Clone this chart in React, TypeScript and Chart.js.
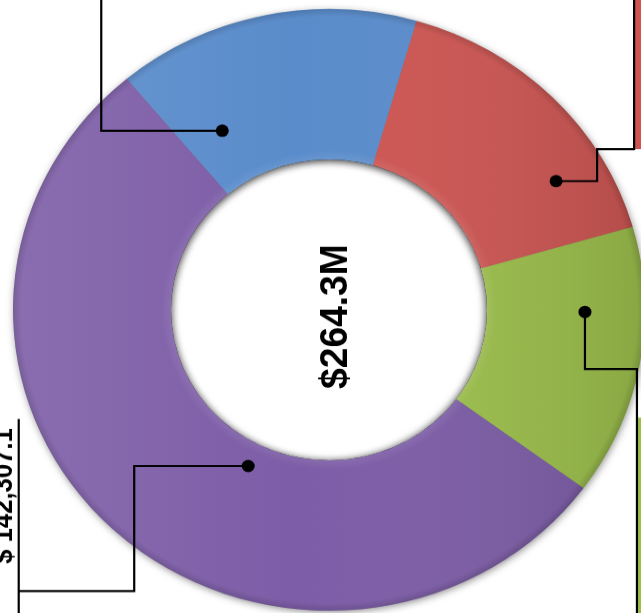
import React, { useEffect, useRef } from "react";
import { Chart, registerables } from "chart.js";

Chart.register(...registerables);

// ---- data ----
const categories = ["Segment A", "Segment B", "Segment C", "Segment D"];
const values = [41032, 42503, 38458, 142307.1];
const colors = ["#5A8CCB", "#CD5653", "#9CBF4C", "#7D5DA7"];
const totalLabel = "$264.3M";
const calloutLabel = "$ 142,307.1";

// dot anchors inside each slice: f = fraction along arc, g = fraction across ring
const anchors = [
  { f: 0.183, g: 0.369 },
  { f: 0.745, g: 0.673 },
  { f: 0.315, g: 0.62 },
  { f: 0.412, g: 0.157 },
];

const FONT = '"Liberation Sans", Arial, Helvetica, sans-serif';

function ringGeom(chart: any) {
  const meta = chart.getDatasetMeta(0);
  const a: any = meta.data[0];
  if (!a) return null;
  return a.getProps(["x", "y", "innerRadius", "outerRadius"], true);
}

function dotPos(arc: any, k: number) {
  const p = arc.getProps(["x", "y", "startAngle", "endAngle", "innerRadius", "outerRadius"], true);
  const an = anchors[k];
  const ang = p.startAngle + an.f * (p.endAngle - p.startAngle);
  const r = p.innerRadius + an.g * (p.outerRadius - p.innerRadius);
  return { x: p.x + r * Math.cos(ang), y: p.y + r * Math.sin(ang) };
}

function ringPath(ctx: any, g: any, inset = 0) {
  ctx.beginPath();
  ctx.arc(g.x, g.y, g.outerRadius - inset, 0, Math.PI * 2);
  ctx.arc(g.x, g.y, g.innerRadius + inset, 0, Math.PI * 2, true);
  ctx.closePath();
}

const shadowPlugin = {
  id: "ringShadow",
  beforeDatasetsDraw(chart: any) {
    const g = ringGeom(chart);
    if (!g) return;
    const ctx = chart.ctx;
    ctx.save();
    ctx.shadowColor = "rgba(0,0,0,0.5)";
    ctx.shadowBlur = 9;
    ctx.shadowOffsetX = 1;
    ctx.shadowOffsetY = 2;
    ringPath(ctx, g, 1);
    ctx.fillStyle = "#777";
    ctx.fill();
    ctx.restore();
  },
  afterDatasetsDraw(chart: any) {
    const g = ringGeom(chart);
    if (!g) return;
    const ctx = chart.ctx;
    const R = g.outerRadius;

    // inner shadow inside the hole
    ctx.save();
    ctx.beginPath();
    ctx.arc(g.x, g.y, g.innerRadius, 0, Math.PI * 2);
    ctx.clip();
    ctx.shadowColor = "rgba(0,0,0,0.55)";
    ctx.shadowBlur = 8;
    ctx.shadowOffsetX = -1;
    ctx.shadowOffsetY = 1;
    ctx.beginPath();
    ctx.arc(g.x, g.y, g.innerRadius + 40, 0, Math.PI * 2);
    ctx.arc(g.x, g.y, g.innerRadius, 0, Math.PI * 2, true);
    ctx.closePath();
    ctx.fillStyle = "#000";
    ctx.fill();
    ctx.restore();

    // shading over the ring
    ctx.save();
    ringPath(ctx, g, 0);
    ctx.clip();
    const lg = ctx.createLinearGradient(g.x - R, 0, g.x + R, 0);
    lg.addColorStop(0, "rgba(255,255,255,0.10)");
    lg.addColorStop(0.45, "rgba(255,255,255,0)");
    lg.addColorStop(1, "rgba(0,0,0,0.12)");
    ctx.fillStyle = lg;
    ctx.fillRect(g.x - R, g.y - R, R * 2, R * 2);
    const w = R - g.innerRadius;
    const rg = ctx.createRadialGradient(g.x, g.y, g.innerRadius, g.x, g.y, R);
    rg.addColorStop(0, "rgba(255,255,255,0.08)");
    rg.addColorStop(10 / w, "rgba(255,255,255,0)");
    rg.addColorStop(1 - 8 / w, "rgba(0,0,0,0)");
    rg.addColorStop(1, "rgba(0,0,0,0.14)");
    ctx.fillStyle = rg;
    ctx.fillRect(g.x - R, g.y - R, R * 2, R * 2);
    ctx.restore();
  },
};

const calloutPlugin = {
  id: "callouts",
  afterDraw(chart: any) {
    const g = ringGeom(chart);
    if (!g) return;
    const ctx = chart.ctx;
    const W = chart.width;
    const H = chart.height;
    const arcs = chart.getDatasetMeta(0).data;
    const d = arcs.map((a: any, i: number) => dotPos(a, i));

    ctx.save();
    // center total
    ctx.save();
    ctx.translate(g.x + 18, g.y + 7);
    ctx.rotate(-Math.PI / 2);
    ctx.font = "bold 39px " + FONT;
    ctx.fillStyle = "#000";
    ctx.textAlign = "center";
    ctx.textBaseline = "alphabetic";
    ctx.fillText(totalLabel, 0, 0);
    ctx.restore();

    const [b, r, gr, p] = d;
    // red box
    const redX = r.x + 78;
    const redY = r.y - 33.6;
    ctx.fillStyle = colors[1];
    ctx.fillRect(redX, 0, W - redX, redY);
    // green box
    const grX = gr.x + 52;
    const grY = gr.y + 111;
    ctx.fillStyle = colors[2];
    ctx.fillRect(grX, grY, W - grX, H - grY);

    ctx.strokeStyle = "#000";
    ctx.lineWidth = 2.2;
    ctx.lineJoin = "miter";
    const path = (pts: number[][]) => {
      ctx.beginPath();
      ctx.moveTo(pts[0][0], pts[0][1]);
      for (let i = 1; i < pts.length; i++) ctx.lineTo(pts[i][0], pts[i][1]);
      ctx.stroke();
    };
    path([[b.x, b.y], [b.x - 121, b.y], [b.x - 121, 0]]);
    path([[r.x, r.y], [r.x + 41, r.y], [r.x + 41, redY], [redX, redY]]);
    path([[redX, 0], [redX, redY + 1]]);
    path([[gr.x, gr.y], [gr.x, gr.y + 59.9], [grX, gr.y + 59.9], [grX, H]]);
    const pX = p.x - 229.5;
    path([[p.x, p.y], [p.x - 114, p.y], [p.x - 114, p.y + 131.3], [pX, p.y + 131.3]]);
    path([[pX, p.y - 49.4], [pX, H]]);

    ctx.fillStyle = "#000";
    d.forEach((pt: any) => {
      ctx.beginPath();
      ctx.arc(pt.x, pt.y, 6.5, 0, Math.PI * 2);
      ctx.fill();
    });

    ctx.save();
    ctx.translate(p.x - 236, p.y + 31.5);
    ctx.rotate(-Math.PI / 2);
    ctx.font = "bold 27px " + FONT;
    ctx.fillStyle = "#000";
    ctx.textAlign = "center";
    ctx.textBaseline = "alphabetic";
    ctx.fillText(calloutLabel, 0, 0);
    ctx.restore();
    ctx.restore();
  },
};

export default function App() {
  const ref = useRef<HTMLCanvasElement | null>(null);
  useEffect(() => {
    if (!ref.current) return;
    const chart = new Chart(ref.current, {
      type: "doughnut",
      data: {
        labels: categories,
        datasets: [
          {
            data: values,
            backgroundColor: colors,
            borderWidth: 0,
            hoverOffset: 0,
            offset: 0,
          },
        ],
      },
      options: {
        responsive: false,
        animation: false,
        events: [],
        cutout: "50%",
        rotation: -39.8,
        layout: { padding: { left: 13, right: 35, top: 20, bottom: 28 } },
        plugins: {
          legend: { display: false },
          tooltip: { enabled: false },
        },
      },
      plugins: [shadowPlugin, calloutPlugin],
    } as any);
    return () => chart.destroy();
  }, []);

  return (
    <div
      style={{
        position: "fixed",
        left: 0,
        top: 0,
        width: 641,
        height: 613,
        overflow: "hidden",
        background: "#fff",
      }}
    >
      <div
        style={{
          position: "absolute",
          left: 0,
          top: -9.9,
          width: 680,
          height: 680,
          transform: "scaleY(0.952)",
          transformOrigin: "0 0",
        }}
      >
        <canvas ref={ref} width={680} height={680} />
      </div>
    </div>
  );
}
